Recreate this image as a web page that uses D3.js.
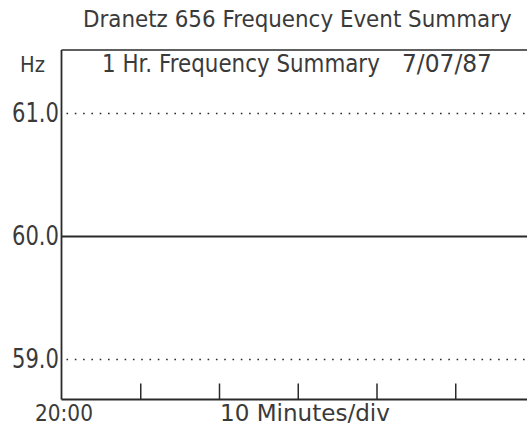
<!DOCTYPE html>
<html><head><meta charset="utf-8">
<script src="https://cdn.jsdelivr.net/npm/d3@7"></script>
<style>body{margin:0;background:#fff}svg{display:block}</style>
</head><body>
<script>
// Data
const minutes = [0, 10, 20, 30, 40, 50, 60];
const frequency = [60.0, 60.0, 60.0, 60.0, 60.0, 60.0, 60.0];
const yTicks = [59.0, 60.0, 61.0];
const yTickLabels = ["59.0", "60.0", "61.0"];
const xTicks = [10, 20, 30, 40, 50, 60];
const title = "Dranetz 656 Frequency Event Summary";
const subtitle = "1 Hr. Frequency Summary";
const dateLabel = "7/07/87";
const yUnit = "Hz";
const xStart = "20:00";
const xDiv = "10 Minutes/div";

const W = 527, H = 427;
const mLeft = 61.5, mTop = 50, mBottom = 399.5;
const ink = "#2a2a2a";
const textInk = "#3a3a3a";
const font = "'DejaVu Sans', sans-serif";

const svg = d3.select("body").append("svg").attr("width", W).attr("height", H);

const x = d3.scaleLinear().domain([0, 60]).range([mLeft, 534]);
const y = d3.scaleLinear().domain([59, 61]).range([359.5, 113.5]);

// Text fitted horizontally to a target width via a scale transform
function txt(s, tx, ty, len, size) {
  const t = svg.append("text").attr("x", 0).attr("y", 0)
    .attr("font-family", font).attr("font-size", size).attr("fill", textInk)
    .text(s);
  const w = t.node().getComputedTextLength();
  const sx = w > 0 ? len / w : 1;
  t.attr("transform", `translate(${tx},${ty}) scale(${sx},1)`);
  return t;
}

// Titles
txt(title, 83, 27, 429, 23);
txt(subtitle, 102, 72, 278, 24);
txt(dateLabel, 402, 72, 90, 24);
txt(yUnit, 20, 72, 25, 21);

// Frame: top and left border
svg.append("line").attr("x1", mLeft).attr("x2", W).attr("y1", mTop).attr("y2", mTop)
  .attr("stroke", ink).attr("stroke-width", 1.5);
svg.append("line").attr("x1", mLeft).attr("x2", mLeft).attr("y1", mTop).attr("y2", mBottom)
  .attr("stroke", ink).attr("stroke-width", 1.8);

// Grid lines (dotted) at 59 and 61
svg.append("g").selectAll("line").data(yTicks.filter(v => v !== 60)).join("line")
  .attr("x1", mLeft + 5).attr("x2", W).attr("y1", d => y(d)).attr("y2", d => y(d))
  .attr("stroke", ink).attr("stroke-width", 1.6).attr("stroke-dasharray", "1.6 6.7");

// Y tick labels
yTicks.forEach((v, i) => txt(yTickLabels[i], 12, y(v) + 8, 47, 26));

// X axis
const xAxis = d3.axisBottom(x).tickValues(xTicks).tickSize(16).tickFormat("");
const gx = svg.append("g").attr("transform", `translate(0,${mBottom})`).call(xAxis);
gx.select(".domain").remove();
gx.selectAll(".tick line").attr("y1", -16).attr("y2", 0).attr("stroke", ink).attr("stroke-width", 1.5);
svg.append("line").attr("x1", mLeft).attr("x2", W).attr("y1", mBottom).attr("y2", mBottom)
  .attr("stroke", ink).attr("stroke-width", 1.8);

// X labels
txt(xStart, 35, 421, 58, 23);
txt(xDiv, 220, 421, 170, 23);

// Frequency trace
const data = minutes.map((m, i) => ({m, f: frequency[i]}));
svg.append("defs").append("clipPath").attr("id", "clip")
  .append("rect").attr("x", mLeft).attr("y", mTop).attr("width", W - mLeft).attr("height", mBottom - mTop);
svg.append("path").datum(data).attr("clip-path", "url(#clip)")
  .attr("fill", "none").attr("stroke", ink).attr("stroke-width", 2)
  .attr("d", d3.line().x(d => x(d.m)).y(d => y(d.f)));
</script>
</body></html>
